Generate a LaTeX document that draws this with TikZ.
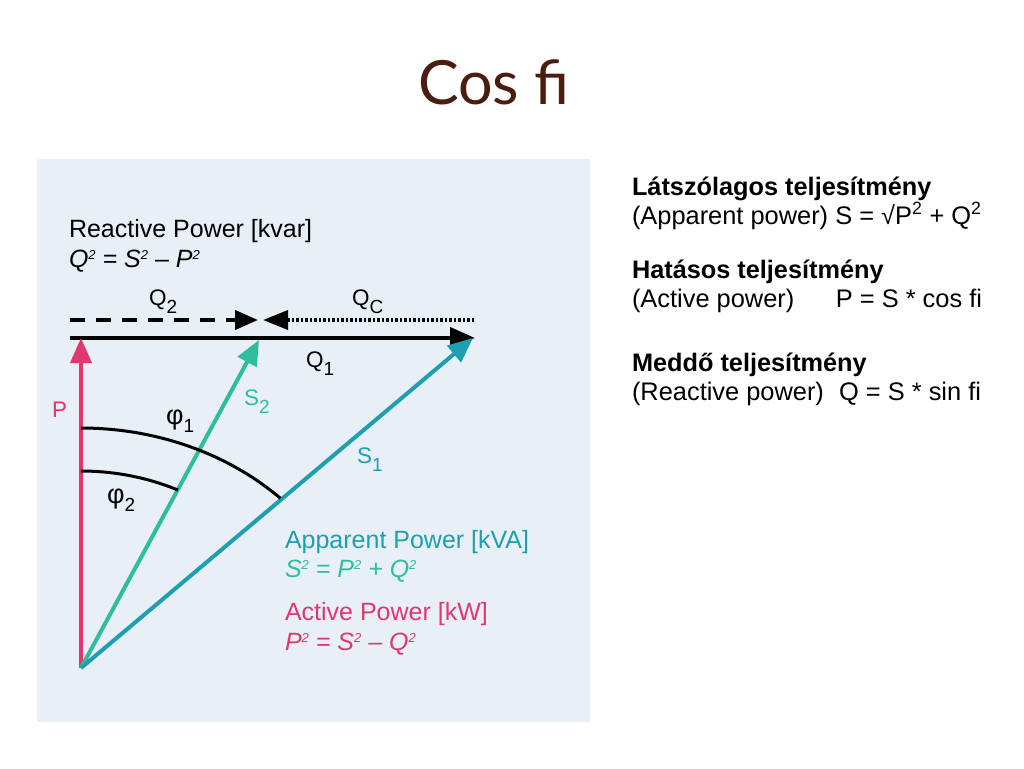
\documentclass[tikz,border=0pt]{standalone}
\usepackage{fontspec}
\setmainfont{Liberation Sans}
\newfontfamily\titlefont{Lato}
\usetikzlibrary{arrows.meta}
\definecolor{panelbg}{HTML}{E9EFF7}
\definecolor{ppink}{HTML}{E0386E}
\definecolor{sone}{HTML}{1E9FB0}
\definecolor{stwo}{HTML}{2DBE9E}
\definecolor{titlebrown}{HTML}{4B1C10}
\newcommand\mysub[1]{\raisebox{-8pt}{\fontsize{19}{19}\selectfont #1}}
\newcommand\mysup[1]{\raisebox{8pt}{\fontsize{13}{13}\selectfont #1}}
\tikzset{
  txt/.style={inner sep=0pt, outer sep=0pt, anchor=base west},
  lbl/.style={txt, font=\fontsize{25}{28}\selectfont},
  small/.style={txt, font=\fontsize{22.5}{24}\selectfont},
  rtxt/.style={txt, font=\fontsize{25.4}{28}\selectfont},
  rbold/.style={txt, font=\fontsize{25.3}{28}\selectfont\bfseries},
  vec/.style={line width=4pt, -{Triangle[length=25pt,width=21pt]}},
  arcline/.style={line width=3pt, black},
}
\begin{document}
\begin{tikzpicture}[x=1pt,y=-1pt]
\useasboundingbox (0,0) rectangle (1024,768);
\fill[white] (0,0) rectangle (1024,768);
% title
\node[txt, font=\fontsize{61}{66}\selectfont\titlefont, text=titlebrown] (title) at (418,104) {Cos fi};
% panel
\fill[panelbg] (37,159) rectangle (590,722);
% coordinates
\coordinate (O) at (81,668);
\coordinate (Ptip) at (81,338);
\coordinate (Lstart) at (70,338);
\coordinate (Qone) at (475,338);
\coordinate (Sonetip) at (473,338);
\coordinate (Stwotip) at (259,340);
\coordinate (Dstart) at (70,320);
\coordinate (Dtip) at (258,320);
\coordinate (Ostart) at (474,320);
\coordinate (Otip) at (263,320);
% horizontal lines
\draw[line width=4pt, dash pattern=on 15pt off 11pt, -{Triangle[length=23pt,width=19pt]}] (Dstart) -- (Dtip);
\draw[line width=3.5pt, dash pattern=on 2.5pt off 2pt, -{Triangle[length=25pt,width=19pt]}] (Ostart) -- (Otip);
\draw[line width=4pt, black, -{Triangle[length=25pt,width=21pt]}] (Lstart) -- (Qone);
% vectors
\draw[vec, ppink] (O) -- (Ptip);
\draw[vec, stwo] (O) -- (Stwotip);
\draw[vec, sone] (O) -- (Sonetip);
% arcs
\draw[arcline] plot[domain=90:45, samples=50] ({81+282*cos(\x)}, {668-240*sin(\x)});
\draw[arcline] plot[domain=90:64.6, samples=40] ({81+226*cos(\x)}, {668-197*sin(\x)});
% diagram labels
\node[lbl] (rp) at (69,237) {Reactive Power [kvar]};
\node[lbl] (rpf) at (69,267) {\itshape Q\mysup{2} = S\mysup{2} – P\mysup{2}};
\node[small] (q2) at (149,305) {Q\mysub{2}};
\node[small] (qc) at (352,305) {Q\mysub{C}};
\node[small] (q1) at (306,367) {Q\mysub{1}};
\node[small, text=ppink] (plab) at (52,417) {P};
\node[small, text=stwo] (s2lab) at (244,405) {S\mysub{2}};
\node[small, text=sone] (s1lab) at (357,463) {S\mysub{1}};
\node[txt, font=\fontsize{27}{28}\selectfont] (phi1) at (166,424) {φ\mysub{1}};
\node[txt, font=\fontsize{27}{28}\selectfont] (phi2) at (107,503) {φ\mysub{2}};
\node[lbl, text=sone] (ap) at (285,548) {Apparent Power [kVA]};
\node[lbl, text=stwo] (apf) at (285,577) {\itshape S\mysup{2} = P\mysup{2} + Q\mysup{2}};
\node[lbl, text=ppink] (ac) at (285,620) {Active Power [kW]};
\node[lbl, text=ppink] (acf) at (285,650) {\itshape P\mysup{2} = S\mysup{2} – Q\mysup{2}};
% right text
\node[rbold] (h1) at (632,195) {Látszólagos teljesítmény};
\node[rtxt] (l1) at (632,224) {(Apparent power) S = √P\textsuperscript{2} + Q\textsuperscript{2}};
\node[rbold] (h2) at (632,278) {Hatásos teljesítmény};
\node[rtxt] (l2a) at (632,307) {(Active power)};
\node[rtxt, anchor=base east] (l2b) at (982,307) {P = S * cos fi};
\node[rbold] (h3) at (632,371) {Meddő teljesítmény};
\node[rtxt] (l3a) at (632,400) {(Reactive power)};
\node[rtxt, anchor=base east] (l3b) at (981,400) {Q = S * sin fi};
\end{tikzpicture}
\end{document}
